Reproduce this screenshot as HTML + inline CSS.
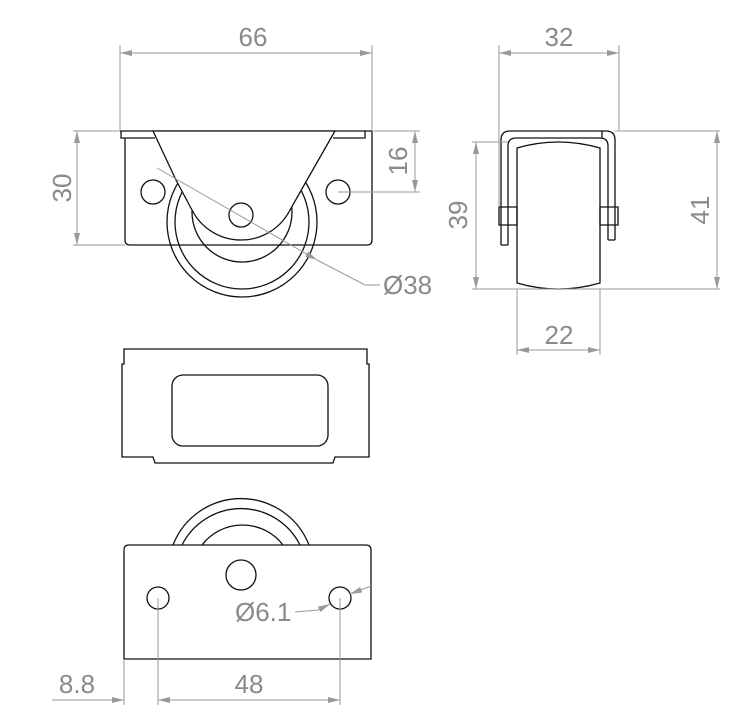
<!DOCTYPE html>
<html><head><style>
html,body{margin:0;padding:0;background:#fff;}
svg{display:block;}
text{font-family:"Liberation Sans",sans-serif;font-size:26px;fill:#8a8a8a;}
</style></head><body>
<svg width="731" height="720" viewBox="0 0 731 720" xmlns="http://www.w3.org/2000/svg">
<defs>
<marker id="a" viewBox="0 0 12 6" refX="12" refY="3" markerWidth="12" markerHeight="6" orient="auto-start-reverse" markerUnits="userSpaceOnUse"><path d="M0,0 L12,3 L0,6 z" fill="#999"/></marker>
</defs>
<g fill="none" stroke="#111" stroke-width="1.3">
<path d="M125,138 L125,240 Q125,245 130,245 L367,245 Q372,245 372,240 L372,131"/>
<path d="M120,131 L372,131 M121,131 L121,138 L155,138 M333,138 L365,138 L365,131"/>
<circle cx="242" cy="222" r="75"/>
<circle cx="242" cy="222" r="67"/>
<circle cx="242" cy="212" r="50"/>
<path d="M153,131 L176,180 L192,210 A55,55 0 0 0 290,210 L307,180 L335,131 Z" fill="#fff"/>
<circle cx="241" cy="215" r="12"/>
<circle cx="153" cy="192" r="12"/>
<circle cx="338" cy="192" r="12"/>
<path d="M501,245 L501,140 Q501,131 510,131 L606,131 Q615,131 615,140 L615,240"/>
<path d="M508,245 L508,146 Q508,138 516,138 L600,138 Q608,138 608,146 L608,240"/>
<path d="M501,245 L508,245 M608,240 L615,240 M602,131 L602,138"/>
<path d="M517,148 Q558,136 600,148 L600,283 Q558,295 517,283 Z"/>
<path d="M499,207 L517,207 L517,225 L499,225 Z M600,207 L618,207 L618,225 L600,225 Z"/>
<path d="M124,349 L367,349 L367,364 L369,364 L369,457 L335,457 L333,463 L155,463 L153,457 L122,457 L122,364 L124,364 Z"/>
<rect x="172" y="375" width="156" height="71" rx="11"/>
<path d="M173,545 A73,73 0 0 1 309,545"/>
<path d="M182,545 A66,66 0 0 1 300,545"/>
<path d="M202,545 A51,51 0 0 1 283,545"/>
<path d="M124,659 L124,550 Q124,545 129,545 L366,545 Q371,545 371,550 L371,659 Z"/>
<circle cx="241" cy="575" r="15"/>
<circle cx="158" cy="598" r="11"/>
<circle cx="340" cy="598" r="11"/>
</g>
<g fill="none" stroke="#999" stroke-width="1">
<path d="M120,45 L120,130 M372,45 L372,130"/>
<line x1="120" y1="53" x2="372" y2="53" marker-start="url(#a)" marker-end="url(#a)"/>
<path d="M73,131 L120,131 M73,245 L125,245"/>
<line x1="77" y1="131" x2="77" y2="245" marker-start="url(#a)" marker-end="url(#a)"/>
<path d="M372,131 L420,131 M338,192 L420,192"/>
<line x1="415" y1="131" x2="415" y2="192" marker-start="url(#a)" marker-end="url(#a)"/>
<line x1="157" y1="168" x2="317" y2="260" marker-end="url(#a)"/>
<path d="M317,260 L365,285 L380,285"/>
<path d="M499,45 L499,207 M619,45 L619,131"/>
<line x1="499" y1="53" x2="619" y2="53" marker-start="url(#a)" marker-end="url(#a)"/>
<path d="M472,142 L508,142 M472,289 L720,289 M615,131 L720,131"/>
<line x1="476" y1="142" x2="476" y2="289" marker-start="url(#a)" marker-end="url(#a)"/>
<line x1="717" y1="131" x2="717" y2="289" marker-start="url(#a)" marker-end="url(#a)"/>
<path d="M517,289 L517,355 M600,289 L600,355"/>
<line x1="517" y1="350" x2="600" y2="350" marker-start="url(#a)" marker-end="url(#a)"/>
<path d="M124,659 L124,705 M158,598 L158,705 M340,598 L340,705"/>
<line x1="52" y1="700" x2="124" y2="700" marker-end="url(#a)"/>
<line x1="158" y1="700" x2="340" y2="700" marker-start="url(#a)" marker-end="url(#a)"/>
<path d="M295,612 L318,610"/>
<line x1="318" y1="610" x2="330" y2="604" marker-end="url(#a)"/>
<line x1="371" y1="586" x2="350" y2="594" marker-end="url(#a)"/>
</g>
<text x="253" y="46" text-anchor="middle">66</text>
<text x="559" y="46" text-anchor="middle">32</text>
<text transform="translate(71,188) rotate(-90)" text-anchor="middle">30</text>
<text transform="translate(407,161) rotate(-90)" text-anchor="middle">16</text>
<text x="383" y="294">Ø38</text>
<text transform="translate(467,215) rotate(-90)" text-anchor="middle">39</text>
<text transform="translate(709,210) rotate(-90)" text-anchor="middle">41</text>
<text x="559" y="344" text-anchor="middle">22</text>
<text x="235" y="621">Ø6.1</text>
<text x="77" y="693" text-anchor="middle">8.8</text>
<text x="249" y="693" text-anchor="middle">48</text>
</svg>
</body></html>
